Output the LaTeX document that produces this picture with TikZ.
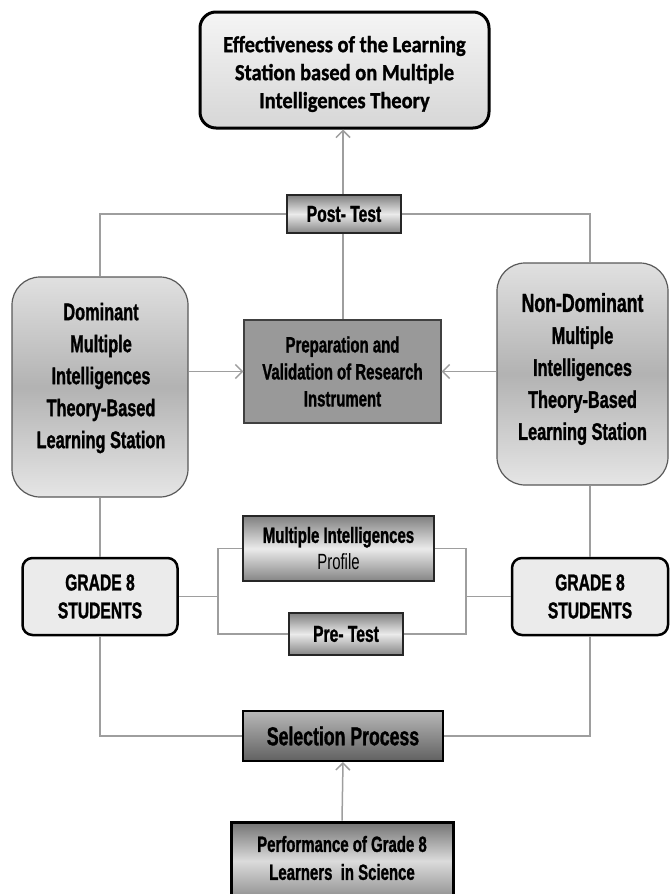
\documentclass[tikz,border=0pt]{standalone}
\usepackage{fontspec}
\setmainfont{Liberation Sans}[FakeStretch=0.68, BoldFeatures={FakeBold=1.2}]
\newfontfamily\calib{Carlito}[FakeStretch=0.89, BoldFeatures={FakeBold=1.2}]
\usetikzlibrary{arrows.meta}
\tikzset{
  conn/.style={draw=black!38, line width=1.5pt},
  arr/.style={conn, -{Straight Barb[length=7pt,width=14pt]}},
  box/.style={align=center, inner sep=0pt, text=black},
  label/.style={align=center, inner sep=0pt, text=black},
  topbox/.style={box, rounded corners=16pt, draw=black, line width=3pt,
    top color=black!4, bottom color=black!16},
  topfont/.style={font=\calib\bfseries\fontsize{23}{28}\selectfont},
  metal/.style={box, draw=black!85, line width=2pt,
    top color=black!50, bottom color=black!48, middle color=black!8},
  station/.style={box, rounded corners=28pt, draw=black!65, line width=1.2pt,
    top color=black!12, bottom color=black!10, middle color=black!30},
  stfont/.style={font=\bfseries\fontsize{24}{32}\selectfont},
  gradebox/.style={box, rounded corners=10pt, draw=black, line width=2.5pt,
    fill=black!8, font=\bfseries\fontsize{23}{28}\selectfont},
  prepbox/.style={box, fill=black!40, draw=black!75, line width=1.2pt,
    font=\bfseries\fontsize{22}{27}\selectfont},
  selbox/.style={box, draw=black, line width=2pt,
    top color=black!28, bottom color=black!62},
  perfbox/.style={box, draw=black, line width=3pt,
    top color=black!55, bottom color=black!45, middle color=black!14},
}
\begin{document}
\begin{tikzpicture}[x=1pt,y=-1pt]
\useasboundingbox (0,0) rectangle (670,894);

\node[topbox, minimum width=289pt, minimum height=116pt] (top) at (344.5,70) {};
\node[label, topfont] (toptext) at (344.5,74)
  {Effectiveness of the Learning\\Station based on Multiple\\Intelligences Theory};

\node[metal, minimum width=114pt, minimum height=38pt,
  font=\bfseries\fontsize{23}{28}\selectfont] (post) at (344,214) {Post- Test};

\node[station, minimum width=176pt, minimum height=220pt] (dom) at (100,387) {};
\node[label, stfont] (domtext) at (101,378)
  {Dominant\\Multiple\\Intelligences\\Theory-Based\\Learning Station};

\node[station, minimum width=171pt, minimum height=222pt] (nondom) at (582.5,374) {};
\node[label, stfont] (nondomtext) at (582.5,369)
  {{\fontsize{26}{32}\selectfont Non-Dominant}\\Multiple\\Intelligences\\Theory-Based\\Learning Station};

\node[prepbox, minimum width=197pt, minimum height=103pt] (prep) at (342.5,371.5)
  {Preparation and\\Validation of Research\\Instrument};

\node[gradebox, minimum width=155pt, minimum height=77pt] (gradeL) at (100,596.5)
  {GRADE 8\\STUDENTS};
\node[gradebox, minimum width=156pt, minimum height=77pt] (gradeR) at (590,596.5)
  {GRADE 8\\STUDENTS};

\node[metal, minimum width=191pt, minimum height=65pt,
  font=\fontsize{22}{27}\selectfont] (mi) at (338.5,548.5)
  {\textbf{Multiple Intelligences}\\Profile};

\node[metal, minimum width=114pt, minimum height=42pt,
  font=\bfseries\fontsize{23}{28}\selectfont] (pre) at (346,634) {Pre- Test};

\node[selbox, minimum width=200pt, minimum height=50pt,
  font=\bfseries\fontsize{26}{30}\selectfont] (sel) at (343,736)
  {Selection Process};

\node[perfbox, minimum width=222pt, minimum height=78pt] (perf) at (342,861) {};
\node[label, font=\bfseries\fontsize{22}{28}\selectfont] (perftext) at (342,858)
  {Performance of Grade 8\\Learners\ \ in Science};

\coordinate (lb) at (218,0);
\coordinate (rb) at (466,0);
\coordinate (pn) at (343,0);

% top part
\draw[arr] (post.north -| pn) -- (top.south -| pn);
\draw[conn] (post.west) -| (dom.north);
\draw[conn] (post.east) -| (nondom.north -| gradeR.north);
\draw[conn] (post.south -| pn) -- (prep.north -| pn);

% arrows into preparation
\draw[arr] (dom.east |- prep.west) -- (prep.west);
\draw[arr] (nondom.west |- prep.east) -- (prep.east);

% stations to grade boxes
\draw[conn] (dom.south) -- (gradeL.north);
\draw[conn] (nondom.south -| gradeR.north) -- (gradeR.north);

% brackets
\draw[conn] (gradeL.east) -- (lb |- gradeL.east);
\draw[conn] (mi.west) -| (lb |- pre.west) -- (pre.west);
\draw[conn] (gradeR.west) -- (rb |- gradeR.west);
\draw[conn] (mi.east) -| (rb |- pre.east) -- (pre.east);

% bottom
\draw[conn] (gradeL.south) |- (sel.west);
\draw[conn] (gradeR.south) |- (sel.east);
\draw[arr] (perf.north) -- (sel.south);
\end{tikzpicture}
\end{document}
